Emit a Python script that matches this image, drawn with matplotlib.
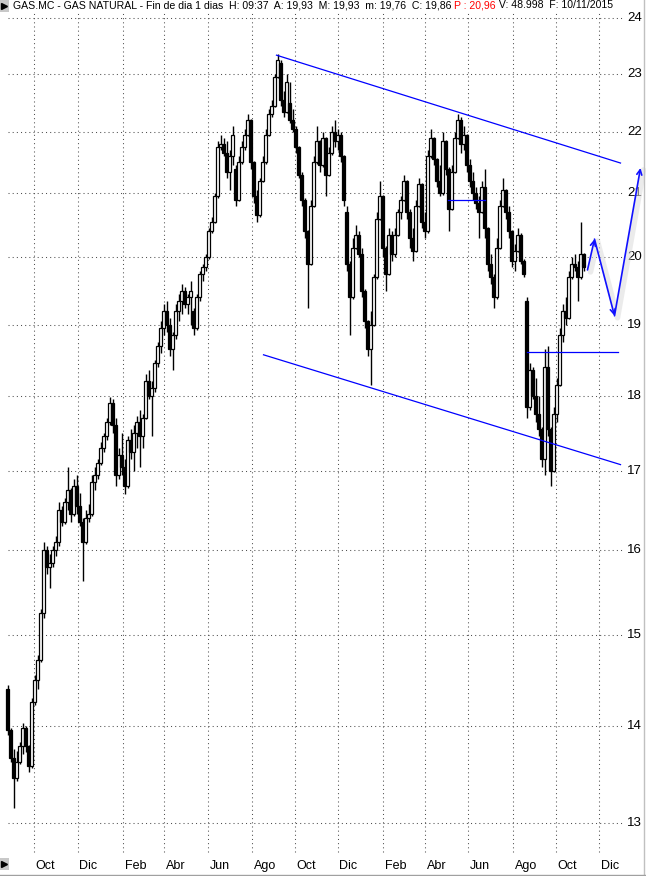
import numpy as np
import pandas as pd
import matplotlib
matplotlib.use('Agg')
import matplotlib.pyplot as plt
from matplotlib.transforms import blended_transform_factory, offset_copy
from matplotlib.lines import Line2D
from matplotlib.patches import Rectangle

plt.rcParams['font.family'] = ['Liberation Sans', 'DejaVu Sans']

# header texts
header_black = 'GAS.MC - GAS NATURAL - Fin de dia 1 dias  H: 09:37  A: 19,93  M: 19,93  m: 19,76  C: 19,86 '
header_red = 'P : 20,96'
header_tail = ' V: 48.998  F: 10/11/2015'

# each candle groups 3 trading days, starting on this day
first_day = '2013-08-23'
days_per_candle = 3

opens = [14.40, 13.95, 13.66, 13.45, 13.62, 13.78, 13.98, 13.78, 13.58, 14.25,
         14.50, 14.72, 15.25, 16.00, 15.80, 15.85, 16.00, 16.10, 16.50, 16.35,
         16.60, 16.75, 16.45, 16.80, 16.55, 16.35, 16.10, 16.40, 16.45, 16.85,
         16.95, 17.10, 17.30, 17.45, 17.65, 17.90, 17.60, 16.95, 17.20, 17.05,
         16.80, 17.40, 17.25, 17.50, 17.65, 17.45, 17.70, 18.20, 18.00, 18.10,
         18.45, 18.70, 18.95, 19.20, 19.00, 18.65, 18.85, 19.20, 19.35, 19.50,
         19.30, 19.40, 19.20, 18.95, 19.40, 19.75, 19.85, 20.00, 20.40, 20.55,
         20.95, 21.75, 21.80, 21.65, 21.35, 21.60, 21.40, 20.90, 21.50, 21.75,
         21.95, 22.20, 21.50, 20.95, 20.65, 21.20, 21.50, 21.95, 22.30, 22.45,
         22.95, 23.20, 22.55, 22.35, 22.50, 22.20, 22.05, 21.75, 21.30, 20.90,
         20.40, 19.90, 20.80, 21.50, 21.85, 21.45, 21.90, 21.30, 21.65, 22.00,
         21.85, 21.95, 21.60, 20.70, 19.90, 19.40, 20.15, 20.35, 20.05, 19.50,
         19.05, 18.65, 19.00, 19.70, 20.60, 20.95, 20.15, 19.75, 20.35, 20.05,
         20.35, 20.70, 20.90, 21.20, 20.70, 20.30, 20.10, 20.80, 21.15, 20.55,
         20.40, 21.60, 21.90, 21.55, 21.20, 21.00, 21.85, 21.40, 20.75, 21.35,
         21.90, 22.20, 21.80, 21.95, 21.45, 21.20, 21.00, 20.85, 20.70, 21.10,
         20.45, 19.90, 19.70, 19.40, 20.15, 20.80, 21.05, 20.70, 20.40, 19.95,
         20.10, 20.35, 19.95, 19.35, 17.85, 18.35, 18.00, 17.75, 17.55, 17.15,
         18.40, 17.55, 17.00, 17.75, 18.15, 18.85, 19.20, 19.10, 19.70, 19.90,
         19.85, 19.70, 20.05]
highs = [14.44, 13.98, 13.75, 13.73, 13.83, 14.03, 14.00, 13.80, 14.30, 14.55,
         14.78, 15.30, 16.10, 16.05, 15.95, 16.05, 16.18, 16.60, 16.55, 16.65,
         17.05, 16.78, 16.90, 16.95, 16.72, 16.40, 16.50, 16.58, 16.95, 17.05,
         17.15, 17.38, 17.50, 17.70, 17.98, 17.95, 17.70, 17.30, 17.50, 17.15,
         17.45, 17.55, 17.60, 17.72, 17.80, 17.75, 18.30, 18.35, 18.20, 18.50,
         18.75, 19.05, 19.30, 19.35, 19.10, 18.90, 19.30, 19.45, 19.60, 19.55,
         19.45, 19.65, 19.25, 19.45, 19.80, 19.90, 20.05, 20.45, 20.62, 21.00,
         21.85, 21.95, 21.90, 21.85, 21.70, 22.10, 21.45, 21.60, 21.85, 22.05,
         22.30, 22.22, 21.52, 21.05, 21.25, 21.60, 22.05, 22.40, 22.55, 23.00,
         23.35, 23.25, 22.70, 23.00, 22.85, 22.40, 22.10, 21.77, 21.35, 20.92,
         20.42, 20.90, 21.60, 22.10, 21.87, 22.00, 21.92, 21.75, 22.10, 22.20,
         22.05, 22.00, 21.62, 20.80, 19.95, 20.30, 20.50, 20.40, 20.15, 19.52,
         19.07, 19.20, 19.75, 20.70, 21.20, 20.97, 20.17, 20.45, 20.40, 20.45,
         20.75, 20.95, 21.30, 21.22, 20.75, 20.45, 20.90, 21.25, 21.17, 20.70,
         21.70, 22.05, 21.92, 21.57, 21.45, 22.00, 21.87, 21.42, 21.45, 22.00,
         22.30, 22.25, 22.10, 21.97, 21.55, 21.35, 21.10, 20.95, 21.20, 21.40,
         20.47, 20.05, 19.75, 20.30, 20.90, 21.25, 21.07, 20.80, 20.42, 20.20,
         20.45, 20.37, 19.97, 19.40, 18.45, 18.40, 18.25, 18.00, 17.57, 18.65,
         18.70, 17.57, 17.85, 18.25, 18.95, 19.30, 19.40, 19.80, 20.00, 20.05,
         19.95, 20.55, 20.07]
lows = [13.90, 13.62, 13.15, 13.42, 13.60, 13.70, 13.72, 13.52, 13.56, 14.22,
        14.40, 14.70, 15.20, 15.72, 15.55, 15.80, 15.93, 16.05, 16.30, 16.33,
        16.50, 16.35, 16.43, 16.45, 16.30, 15.63, 16.08, 16.35, 16.43, 16.75,
        16.90, 17.08, 17.25, 17.40, 17.60, 17.50, 16.80, 16.90, 16.95, 16.70,
        16.78, 17.15, 17.00, 17.30, 17.05, 17.30, 17.68, 17.95, 17.45, 18.05,
        18.40, 18.60, 18.85, 18.90, 18.55, 18.35, 18.80, 19.05, 19.15, 19.25,
        19.15, 19.00, 18.85, 18.93, 19.35, 19.65, 19.80, 19.98, 20.38, 20.53,
        20.93, 21.70, 21.60, 21.25, 21.05, 21.45, 20.80, 20.88, 21.48, 21.70,
        21.93, 21.40, 20.85, 20.55, 20.63, 21.18, 21.48, 21.93, 22.25, 22.43,
        22.93, 22.45, 22.25, 22.33, 22.15, 22.00, 21.65, 21.25, 20.80, 20.30,
        19.25, 19.88, 20.78, 21.48, 21.35, 21.43, 20.95, 21.28, 21.63, 21.75,
        21.70, 21.50, 20.80, 19.80, 18.85, 19.38, 20.13, 20.00, 19.40, 18.95,
        18.55, 18.15, 18.98, 19.68, 20.58, 20.00, 19.50, 19.73, 19.95, 20.00,
        20.33, 20.60, 20.88, 20.60, 20.15, 19.95, 20.08, 20.78, 20.45, 20.30,
        20.38, 21.58, 21.45, 21.10, 20.95, 20.98, 21.30, 20.40, 20.73, 21.33,
        21.88, 21.65, 21.70, 21.35, 21.10, 20.90, 20.75, 20.30, 20.68, 20.30,
        19.80, 19.60, 19.25, 19.38, 20.13, 20.78, 20.60, 20.30, 19.85, 19.80,
        20.08, 19.90, 19.70, 17.70, 17.80, 17.95, 17.65, 17.45, 17.05, 16.95,
        17.45, 16.80, 16.98, 17.65, 18.13, 18.75, 19.00, 19.08, 19.68, 19.80,
        19.35, 19.68, 19.80]
closes = [13.95, 13.66, 13.45, 13.62, 13.78, 13.98, 13.78, 13.58, 14.25, 14.50,
          14.72, 15.25, 16.00, 15.80, 15.85, 16.00, 16.10, 16.50, 16.35, 16.60,
          16.75, 16.45, 16.80, 16.55, 16.35, 16.10, 16.40, 16.45, 16.85, 16.95,
          17.10, 17.30, 17.45, 17.65, 17.90, 17.60, 16.95, 17.20, 17.05, 16.80,
          17.40, 17.25, 17.50, 17.65, 17.45, 17.70, 18.20, 18.00, 18.10, 18.45,
          18.70, 18.95, 19.20, 19.00, 18.65, 18.85, 19.20, 19.35, 19.50, 19.30,
          19.40, 19.50, 18.95, 19.40, 19.75, 19.85, 20.00, 20.40, 20.55, 20.95,
          21.75, 21.80, 21.65, 21.35, 21.60, 21.95, 20.90, 21.50, 21.75, 21.95,
          22.20, 21.50, 20.95, 20.65, 21.20, 21.50, 21.95, 22.30, 22.45, 22.95,
          23.25, 22.55, 22.35, 22.85, 22.20, 22.05, 21.75, 21.30, 20.90, 20.40,
          19.90, 20.80, 21.50, 21.85, 21.45, 21.90, 21.30, 21.65, 22.00, 21.85,
          21.95, 21.60, 20.90, 19.90, 19.40, 20.15, 20.35, 20.05, 19.50, 19.05,
          18.65, 19.00, 19.70, 20.60, 20.95, 20.15, 19.75, 20.35, 20.05, 20.35,
          20.70, 20.90, 21.20, 20.70, 20.30, 20.10, 20.80, 21.15, 20.55, 20.40,
          21.60, 21.90, 21.55, 21.20, 21.00, 21.85, 21.40, 20.75, 21.35, 21.90,
          22.20, 21.80, 21.95, 21.45, 21.20, 21.00, 20.85, 20.70, 21.10, 20.45,
          19.90, 19.70, 19.40, 20.15, 20.80, 21.05, 20.70, 20.40, 19.95, 20.10,
          20.35, 19.95, 19.75, 17.85, 18.35, 18.00, 17.75, 17.55, 17.15, 18.40,
          17.55, 17.00, 17.75, 18.15, 18.85, 19.20, 19.10, 19.70, 19.90, 19.85,
          19.70, 20.05, 19.86]

# hand drawn lines: (dates, prices)
upper_channel = (['2014-09-05', '2015-12-31'], [23.33, 21.49])
lower_channel = (['2014-08-19', '2015-12-31'], [18.57, 17.08])
resistance = (['2015-05-04', '2015-06-24'], [20.89, 20.89])
support = (['2015-08-21', '2015-12-28'], [18.61, 18.61])
arrow_path = (['2015-11-16', '2015-11-25', '2015-12-23', '2016-01-28'],
              [19.81, 20.28, 19.13, 21.41])

price_levels = [13, 14, 15, 16, 17, 18, 19, 20, 21, 22, 23, 24]
month_names = {2: 'Feb', 4: 'Abr', 6: 'Jun', 8: 'Ago', 10: 'Oct', 12: 'Dic'}

W, H = 646, 876
fig = plt.figure(figsize=(W / 100, H / 100), dpi=100)
fig.patch.set_facecolor('white')
ax = fig.add_axes([0, 0, 1, 1])
ax.set_yscale('log')
ax.set_xlim(-6.5, W - 6.5)
ax.set_ylim(24 * np.exp(-(H - 18) / 1313), 24 * np.exp(18 / 1313))
ax.axis('off')

all_days = pd.bdate_range(first_day, '2016-03-31')
def day_index(dates):
    return all_days.searchsorted(pd.to_datetime(dates))

n = len(closes)
centers = np.arange(n) * days_per_candle + 1
o = np.array(opens); c = np.array(closes)
hi = np.array(highs); lo = np.array(lows)

grid_kw = dict(color='#505050', lw=0.75, ls=(0, (1, 3)), zorder=0)
for lev in price_levels:
    ax.axhline(lev, xmin=8 / W, xmax=623 / W, **grid_kw)

ylab = blended_transform_factory(ax.transAxes, ax.transData)
for lev in price_levels:
    ax.text(642 / W, lev, str(lev), transform=ylab, ha='right', va='center',
            fontsize=9.5, color='black')

# month grid every two months
xlab = blended_transform_factory(ax.transData, ax.transAxes)
month_starts = np.r_[0, np.nonzero(np.diff(all_days.month))[0] + 1]
for i in month_starts:
    d = all_days[i]
    if d.month in month_names and 0 < i < 620:
        ax.axvline(i, ymin=1 - 852 / H, ymax=1 - 12 / H, **grid_kw)
        ax.text(i + 2, 1 - 866 / H, month_names[d.month], transform=xlab,
                ha='left', va='center', fontsize=9)

# candles
ax.vlines(centers, lo, hi, color='black', lw=1.0, zorder=2)
up = c >= o
bottoms = np.minimum(o, c)
heights = np.maximum(np.abs(c - o), 0.02)
ax.bar(centers, heights, bottom=bottoms, width=2.4,
       color=np.where(up, 'white', 'black'), edgecolor='black', linewidth=0.9, zorder=3)

# blue drawings
for dates, prices in [upper_channel, lower_channel, resistance, support]:
    ax.plot(day_index(dates), prices, color='#0000ff', lw=0.9, zorder=4)

ax_idx = day_index(arrow_path[0])
ax_pr = arrow_path[1]
shadow = offset_copy(ax.transData, fig=fig, x=3, y=-2, units='dots')
ax.plot(ax_idx, ax_pr, color='#dcdcdc', lw=4, alpha=0.55, transform=shadow,
        solid_capstyle='round', zorder=4)
for j in range(len(ax_idx) - 1):
    ax.annotate('', xy=(ax_idx[j + 1], ax_pr[j + 1]), xytext=(ax_idx[j], ax_pr[j]),
                arrowprops=dict(arrowstyle='->', color='#1010ff', lw=1.2,
                                shrinkA=0, shrinkB=0, mutation_scale=9), zorder=5)

# header line
fig.canvas.draw()
renderer = fig.canvas.get_renderer()
xpos = 13
for txt, col in [(header_black, 'black'), (header_red, '#ff0000'), (header_tail, 'black')]:
    t = fig.text(xpos / W, 1 - 5.5 / H, txt, color=col, fontsize=7.6, ha='left', va='center')
    xpos = t.get_window_extent(renderer).x1

# small scroll buttons and frame
for y0 in (0, 858):
    fig.add_artist(Rectangle((0, 1 - (y0 + 12) / H), 9 / W, 12 / H, transform=fig.transFigure,
                             facecolor='#c8c8c8', edgecolor='none'))
    fig.add_artist(Line2D([4 / W], [1 - (y0 + 6) / H], marker='>', color='black',
                          markersize=4, transform=fig.transFigure))
fig.add_artist(Line2D([644 / W, 644 / W], [0, 1], color='#c0c0c0', lw=1, transform=fig.transFigure))
fig.add_artist(Line2D([0, 1], [1.5 / H, 1.5 / H], color='#a0a0a0', lw=1, transform=fig.transFigure))

fig.savefig('out.png', dpi=100)
